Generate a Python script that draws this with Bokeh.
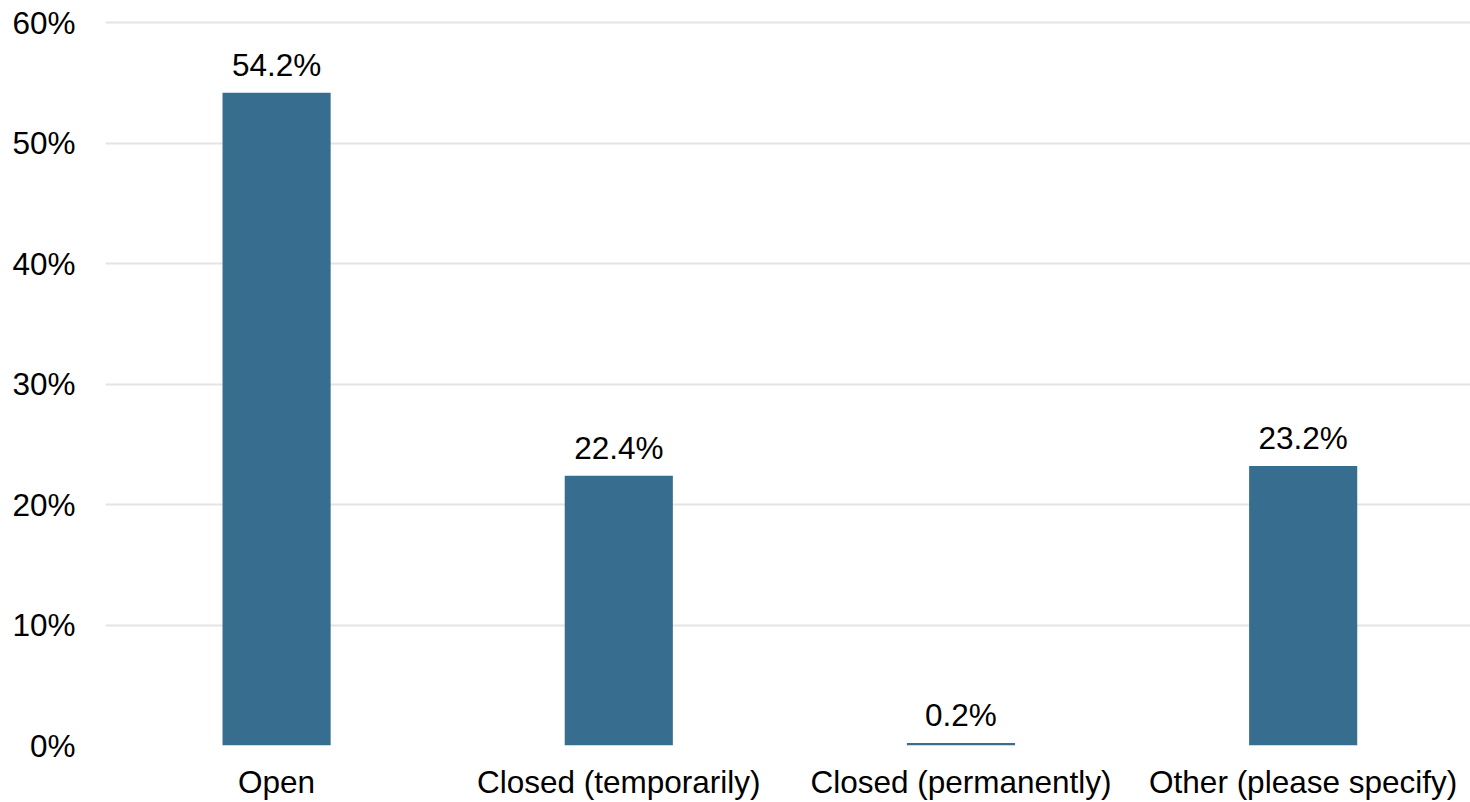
from bokeh.plotting import figure
from bokeh.models import ColumnDataSource, Range1d, FixedTicker
from bokeh.core.properties import value
from bokeh.embed import file_html
from bokeh.resources import INLINE

categories = ["Open", "Closed (temporarily)", "Closed (permanently)", "Other (please specify)"]
values = [54.2, 22.4, 0.2, 23.2]
labels = ["54.2%", "22.4%", "0.2%", "23.2%"]
y_ticks = [0, 10, 20, 30, 40, 50, 60]

FONT = "Liberation Sans"
FS = "31.5px"
xs = list(range(len(categories)))
src = ColumnDataSource(dict(x=xs, top=values, label=labels))

p = figure(width=1470, height=802, output_backend="svg", toolbar_location=None,
           x_range=Range1d(-0.5, 3.489), y_range=Range1d(0, 60.2),
           min_border_left=105, min_border_right=0, min_border_top=20, min_border_bottom=57)
p.outline_line_color = None
p.background_fill_color = "white"
p.border_fill_color = "white"

p.vbar(x="x", top="top", bottom=0, width=0.316, source=src,
       fill_color="#376e8f", line_color=None)
p.text(x="x", y="top", text="label", source=src, text_align="center",
       text_baseline="bottom", y_offset=-10, text_font=value(FONT),
       text_font_size=FS, text_color="black")

p.xaxis.ticker = FixedTicker(ticks=xs)
p.xaxis.major_label_overrides = {i: c for i, c in enumerate(categories)}
p.yaxis.ticker = FixedTicker(ticks=y_ticks)
p.yaxis.major_label_overrides = {t: f"{t}%" for t in y_ticks}

for ax in (p.xaxis, p.yaxis):
    ax.axis_line_color = None
    ax.major_tick_line_color = None
    ax.minor_tick_line_color = None
    ax.major_label_text_font = FONT
    ax.major_label_text_font_size = FS
    ax.major_label_text_color = "black"
p.xaxis.major_label_standoff = 12
p.yaxis.major_label_standoff = 24

p.xgrid.grid_line_color = None
p.ygrid.ticker = FixedTicker(ticks=y_ticks)
p.ygrid.grid_line_color = "#e4e4e4"
p.ygrid.grid_line_width = 2

open("out.html", "w").write(file_html(p, INLINE))
